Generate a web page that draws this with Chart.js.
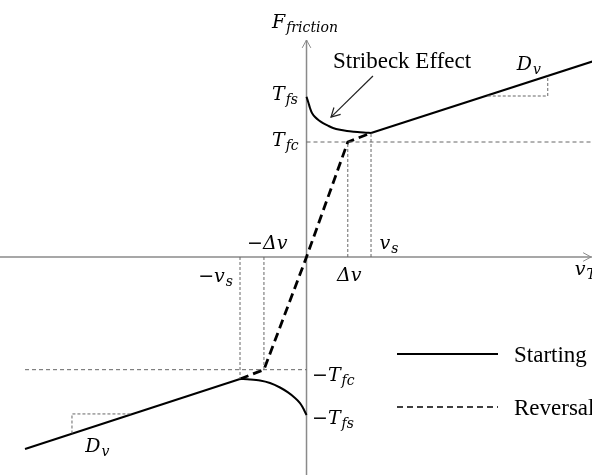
<!DOCTYPE html>
<html>
<head>
<meta charset="utf-8">
<script src="https://cdn.jsdelivr.net/npm/chart.js@4"></script>
<style>
  html, body { margin: 0; padding: 0; background: #fff; }
  #wrap { width: 592px; height: 475px; }
</style>
</head>
<body>
<div id="wrap"><canvas id="c" width="592" height="475"></canvas></div>
<script>
// velocity in units of v_s, force in units of T_fc
const xRange = [-4.752, 4.426];
const yRange = [-1.896, 2.235];

// Stribeck branch, positive and negative side
const stribeckPos = [
  { x: 0.0, y: 1.394 }, { x: 0.031, y: 1.339 }, { x: 0.054, y: 1.296 }, { x: 0.085, y: 1.252 },
  { x: 0.132, y: 1.217 }, { x: 0.194, y: 1.187 }, { x: 0.256, y: 1.165 }, { x: 0.333, y: 1.142 },
  { x: 0.411, y: 1.122 }, { x: 0.519, y: 1.106 }, { x: 0.628, y: 1.096 }, { x: 0.736, y: 1.089 },
  { x: 0.829, y: 1.084 }, { x: 0.922, y: 1.081 }, { x: 1.0, y: 1.078 },
];
const stribeckNeg = [
  { x: -1.031, y: -1.061 }, { x: -0.876, y: -1.065 }, { x: -0.721, y: -1.074 }, { x: -0.566, y: -1.096 },
  { x: -0.411, y: -1.135 }, { x: -0.287, y: -1.178 }, { x: -0.178, y: -1.226 }, { x: -0.101, y: -1.270 },
  { x: -0.054, y: -1.313 }, { x: -0.023, y: -1.348 }, { x: 0.0, y: -1.374 },
];
// viscous part (slope D_v)
const viscousPos = [{ x: 1.0, y: 1.078 }, { x: 4.43, y: 1.70 }];
const viscousNeg = [{ x: -1.031, y: -1.061 }, { x: -4.364, y: -1.67 }];
// reversal path through the origin
const reversal = [
  { x: -1.031, y: -1.061 }, { x: -0.66, y: -0.98 }, { x: 0, y: 0 },
  { x: 0.64, y: 1.0 }, { x: 1.0, y: 1.078 },
];
// guide lines
const tfcPos = [{ x: 0, y: 1.0 }, { x: 4.43, y: 1.0 }];
const tfcNeg = [{ x: -4.364, y: -0.98 }, { x: 0, y: -0.98 }];
const guideVs = [{ x: 1.0, y: 0 }, { x: 1.0, y: 1.078 }];
const guideDv = [{ x: 0.64, y: 0 }, { x: 0.64, y: 1.0 }];
const guideNegVs = [{ x: -1.031, y: 0 }, { x: -1.031, y: -1.061 }];
const guideNegDv = [{ x: -0.66, y: 0 }, { x: -0.66, y: -0.98 }];
const slopePos = [{ x: 2.81, y: 1.40 }, { x: 3.74, y: 1.40 }, { x: 3.74, y: 1.577 }];
const slopeNeg = [{ x: -2.73, y: -1.365 }, { x: -3.636, y: -1.365 }, { x: -3.636, y: -1.535 }];

// math labels: [main, subscript, x, y(baseline)]
const mathLabels = [
  ['F', 'friction', -0.535, 1.99],
  ['T', 'fs', -0.535, 1.365],
  ['T', 'fc', -0.535, 0.965],
  ['\u2212\u0394v', '', -0.922, 0.07],
  ['v', 's', 1.13, 0.07],
  ['\u0394v', '', 0.473, -0.209],
  ['\u2212v', 's', -1.68, -0.217],
  ['v', 'T', 4.16, -0.157],
  ['D', 'v', 3.26, 1.626],
  ['D', 'v', -3.43, -1.696],
  ['\u2212T', 'fc', 0.085, -1.078],
  ['\u2212T', 'fs', 0.085, -1.452],
];
const legendLabels = ['Starting', 'Reversal'];

const solid = (data, label) => ({ label, data, showLine: true, borderColor: '#000', borderWidth: 2, pointRadius: 0, fill: false });
const guide = (data, dash) => ({ data, showLine: true, borderColor: '#666', borderWidth: 1, borderDash: dash || [3, 2], pointRadius: 0, fill: false });

const datasets = [
  guide(tfcPos, [4, 3]), guide(tfcNeg, [4, 3]),
  guide(guideVs), guide(guideDv), guide(guideNegVs), guide(guideNegDv),
  guide(slopePos), guide(slopeNeg),
  Object.assign(solid(stribeckPos, 'Starting'), { tension: 0.3 }),
  Object.assign(solid(stribeckNeg, 'Starting'), { tension: 0.3 }),
  solid(viscousPos, 'Starting'), solid(viscousNeg, 'Starting'),
  { label: 'Reversal', data: reversal, showLine: true, borderColor: '#000', borderWidth: 2.8, borderDash: [9, 5], pointRadius: 0, fill: false },
];

function arrowHead(ctx, x, y, ang, size) {
  ctx.beginPath();
  ctx.moveTo(x - size * Math.cos(ang - 0.5), y - size * Math.sin(ang - 0.5));
  ctx.lineTo(x, y);
  ctx.lineTo(x - size * Math.cos(ang + 0.5), y - size * Math.sin(ang + 0.5));
  ctx.stroke();
}

const axesPlugin = {
  id: 'axes',
  beforeDatasetsDraw(chart) {
    const { ctx, scales: { x, y } } = chart;
    const ox = x.getPixelForValue(0), oy = y.getPixelForValue(0);
    ctx.save();
    ctx.strokeStyle = '#8a8a8a';
    ctx.lineWidth = 1.5;
    ctx.beginPath();
    ctx.moveTo(ox, chart.height); ctx.lineTo(ox, 40);
    ctx.moveTo(0, oy); ctx.lineTo(chart.width, oy);
    ctx.stroke();
    ctx.lineWidth = 1;
    arrowHead(ctx, ox, 40, -Math.PI / 2, 9);
    arrowHead(ctx, chart.width - 1, oy, 0, 9);
    ctx.restore();
  },
  afterDraw(chart) {
    const { ctx, scales: { x, y } } = chart;
    ctx.save();
    ctx.fillStyle = '#000';
    ctx.textBaseline = 'alphabetic';
    mathLabels.forEach(([main, sub, vx, vy]) => {
      const px = x.getPixelForValue(vx), py = y.getPixelForValue(vy);
      ctx.font = 'italic 19px "DejaVu Serif"';
      ctx.fillText(main, px, py);
      const w = ctx.measureText(main).width;
      if (sub) {
        ctx.font = 'italic 14px "DejaVu Serif"';
        ctx.fillText(sub, px + w + 1, py + 4);
      }
    });

    // Stribeck annotation with arrow
    ctx.font = '23px "Liberation Serif"';
    ctx.fillText('Stribeck Effect', x.getPixelForValue(0.41), y.getPixelForValue(1.643));
    const ax0 = x.getPixelForValue(1.03), ay0 = y.getPixelForValue(1.574);
    const ax1 = x.getPixelForValue(0.38), ay1 = y.getPixelForValue(1.217);
    ctx.strokeStyle = '#222';
    ctx.lineWidth = 1.2;
    ctx.beginPath(); ctx.moveTo(ax0, ay0); ctx.lineTo(ax1, ay1); ctx.stroke();
    arrowHead(ctx, ax1, ay1, Math.atan2(ay1 - ay0, ax1 - ax0), 10);

    // legend
    ctx.strokeStyle = '#000';
    ctx.lineWidth = 2;
    ctx.beginPath(); ctx.moveTo(397, 354); ctx.lineTo(498, 354); ctx.stroke();
    ctx.lineWidth = 1.6;
    ctx.setLineDash([6, 4]);
    ctx.beginPath(); ctx.moveTo(397, 407); ctx.lineTo(498, 407); ctx.stroke();
    ctx.setLineDash([]);
    ctx.font = '23px "Liberation Serif"';
    ctx.fillText(legendLabels[0], 514, 362);
    ctx.fillText(legendLabels[1], 514, 415);
    ctx.restore();
  },
};

new Chart(document.getElementById('c'), {
  type: 'scatter',
  data: { datasets },
  options: {
    responsive: false,
    animation: false,
    layout: { padding: 0 },
    plugins: { legend: { display: false }, tooltip: { enabled: false } },
    scales: {
      x: { type: 'linear', min: xRange[0], max: xRange[1], display: false },
      y: { type: 'linear', min: yRange[0], max: yRange[1], display: false },
    },
  },
  plugins: [axesPlugin],
});
</script>
</body>
</html>
